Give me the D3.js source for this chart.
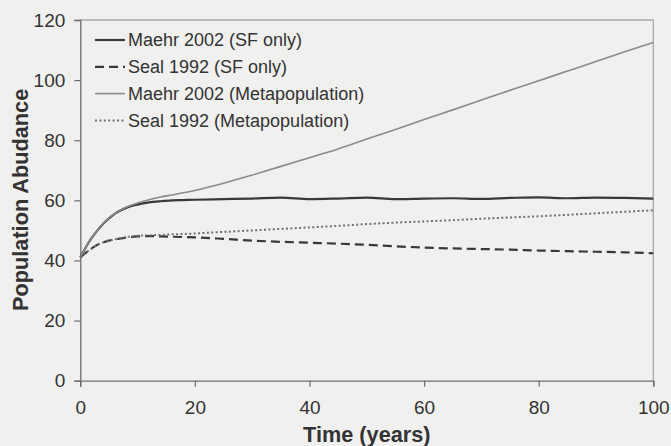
<!DOCTYPE html>
<html>
<head>
<meta charset="utf-8">
<script src="https://cdn.jsdelivr.net/npm/d3@7/dist/d3.min.js"></script>
<style>
  html, body { margin: 0; padding: 0; background: #f0f0ef; }
  svg { display: block; }
  text { font-family: "Liberation Sans", Arial, sans-serif; fill: #333; }
</style>
</head>
<body>
<svg id="chart" width="671" height="446"></svg>
<script>
// Simulated population abundance over 100 years
const years = [0, 1, 2, 3, 4, 5, 6, 7, 8, 10, 12, 14, 16, 18, 20, 25, 30, 35, 40, 45, 50, 55, 60, 65, 70, 75, 80, 85, 90, 95, 100];

const maehrSF   = [41, 44.5, 47.5, 50, 52.2, 54, 55.5, 56.6, 57.5, 58.6, 59.3, 59.7, 60, 60.1, 60.2, 60.4, 60.6, 60.9, 60.4, 60.6, 60.9, 60.4, 60.6, 60.7, 60.5, 60.8, 61.0, 60.7, 60.9, 60.8, 60.6];
const sealSF    = [41, 42.6, 44, 45.2, 46, 46.6, 47, 47.3, 47.6, 48, 48.1, 48, 47.9, 47.8, 47.7, 47.2, 46.6, 46.2, 45.9, 45.6, 45.2, 44.7, 44.3, 44.0, 43.8, 43.6, 43.3, 43.1, 42.9, 42.7, 42.4];
const maehrMeta = [41, 44.5, 47.5, 50, 52.3, 54.2, 55.6, 56.8, 57.7, 59.1, 60.2, 61.1, 61.8, 62.5, 63.3, 65.7, 68.4, 71.3, 74.2, 77.1, 80.4, 83.6, 86.9, 90.1, 93.4, 96.6, 99.8, 103.0, 106.2, 109.4, 112.5];
const sealMeta  = [41, 42.6, 44, 45.2, 46, 46.6, 47, 47.4, 47.8, 48.2, 48.4, 48.5, 48.7, 48.8, 49, 49.5, 50, 50.5, 51, 51.5, 52.1, 52.6, 53.0, 53.4, 53.9, 54.3, 54.7, 55.2, 55.7, 56.2, 56.7];

const seriesNames = ["Maehr 2002 (SF only)", "Seal 1992 (SF only)", "Maehr 2002 (Metapopulation)", "Seal 1992 (Metapopulation)"];
const xTicks = [0, 20, 40, 60, 80, 100];
const yTicks = [0, 20, 40, 60, 80, 100, 120];

const series = [
  { name: seriesNames[0], values: maehrSF,   color: "#383838", width: 2.2, dash: null },
  { name: seriesNames[1], values: sealSF,    color: "#383838", width: 2.2, dash: "9,5" },
  { name: seriesNames[2], values: maehrMeta, color: "#8a8a8a", width: 1.6, dash: null },
  { name: seriesNames[3], values: sealMeta,  color: "#707070", width: 2, dash: "2,2.4" }
];

const svg = d3.select("#chart");
const margin = { left: 80.3, top: 20, right: 671 - 653.3, bottom: 446 - 380.7 };
const W = 671 - margin.left - margin.right;
const H = 446 - margin.top - margin.bottom;

const x = d3.scaleLinear().domain([0, 100]).range([0, W]);
const y = d3.scaleLinear().domain([0, 120]).range([H, 0]);

const g = svg.append("g").attr("transform", `translate(${margin.left},${margin.top})`);

// plot frame (top and right edges)
g.append("path")
  .attr("d", `M0,0H${W}V${H}`)
  .attr("fill", "none")
  .attr("stroke", "#a8a8a8")
  .attr("stroke-width", 1.3);

// axes
const xAxis = g.append("g")
  .attr("transform", `translate(0,${H})`)
  .call(d3.axisBottom(x).tickValues(xTicks).tickSize(6).tickPadding(14).tickFormat(d3.format("d")));
const yAxis = g.append("g")
  .call(d3.axisLeft(y).tickValues(yTicks).tickSize(6).tickPadding(9).tickFormat(d3.format("d")));

[xAxis, yAxis].forEach(a => {
  a.select(".domain").attr("stroke", "#6e6e6e").attr("stroke-width", 1.3);
  a.selectAll(".tick line").attr("stroke", "#6e6e6e").attr("stroke-width", 1.2);
  a.selectAll(".tick text")
    .style("font-family", "'Liberation Sans', Arial, sans-serif")
    .style("font-size", "19px")
    .attr("fill", "#3a3a3a");
});

// series lines
const line = d3.line()
  .x((d, i) => x(years[i]))
  .y(d => y(d))
  .curve(d3.curveMonotoneX);

g.selectAll("path.series")
  .data(series)
  .join("path")
  .attr("class", "series")
  .attr("d", d => line(d.values))
  .attr("fill", "none")
  .attr("stroke", d => d.color)
  .attr("stroke-width", d => d.width)
  .attr("stroke-dasharray", d => d.dash)
  .attr("stroke-linejoin", "round");

// legend
const legend = svg.append("g").attr("transform", "translate(95,40)");
const rows = legend.selectAll("g")
  .data(series)
  .join("g")
  .attr("transform", (d, i) => `translate(0,${i * 26.8})`);
rows.append("line")
  .attr("x1", 0).attr("x2", 30)
  .attr("y1", 0).attr("y2", 0)
  .attr("stroke", d => d.color)
  .attr("stroke-width", d => d.width)
  .attr("stroke-dasharray", d => d.dash);
rows.append("text")
  .attr("x", 33)
  .attr("y", 6.3)
  .style("font-size", "18px")
  .attr("fill", "#3a3a3a")
  .text(d => d.name);

// axis titles
svg.append("text")
  .attr("x", margin.left + W / 2)
  .attr("y", 442)
  .attr("text-anchor", "middle")
  .style("font-size", "21.7px")
  .style("font-weight", "bold")
  .attr("fill", "#333")
  .text("Time (years)");

svg.append("text")
  .attr("transform", `translate(28,${margin.top + H / 2 - 0.5}) rotate(-90)`)
  .attr("text-anchor", "middle")
  .style("font-size", "21.7px")
  .style("font-weight", "bold")
  .attr("fill", "#333")
  .text("Population Abudance");
</script>
</body>
</html>
